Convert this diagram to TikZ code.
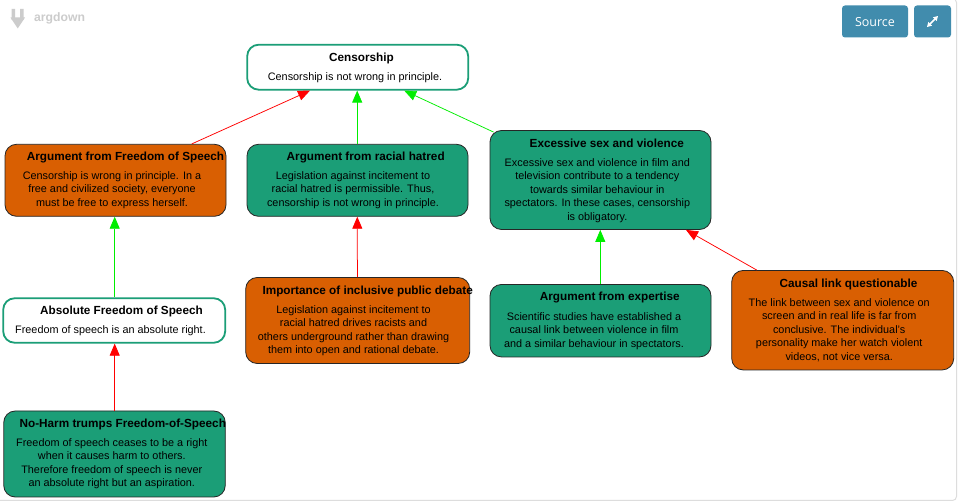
\documentclass[tikz,border=0pt]{standalone}
\usepackage{fontspec}
\setmainfont{Liberation Sans}
\newfontfamily\opensans{Open Sans}
\usetikzlibrary{arrows.meta,calc}
\definecolor{adteal}{HTML}{1B9E77}
\definecolor{adorange}{HTML}{D95F02}
\definecolor{adbtn}{HTML}{418CAD}
\definecolor{adgray}{HTML}{CCCCCC}
\definecolor{adframe}{HTML}{DDDDDD}
\definecolor{adgreen}{HTML}{00EE00}
\definecolor{adred}{HTML}{FF0000}
\tikzset{
  box/.style={rectangle, rounded corners=11.5pt, inner sep=0pt},
  argbox/.style={box, draw=black!85, line width=0.8pt},
  stmt/.style={box, draw=adteal, fill=white, line width=1.8pt},
  ttl/.style={font=\bfseries\fontsize{11.75}{13}\selectfont, inner sep=0pt, anchor=base},
  txt/.style={font=\fontsize{10.85}{13.5}\selectfont, inner sep=0pt, align=center, anchor=north},
  sup/.style={draw=adgreen, -{Triangle[length=12pt,width=10pt]}, line width=0.75pt},
  att/.style={draw=adred, -{Triangle[length=12pt,width=10pt]}, line width=0.75pt},
  btn/.style={rectangle, rounded corners=3pt, fill=adbtn, inner sep=0pt},
}
\begin{document}
\begin{tikzpicture}[x=1pt,y=-1pt]
\useasboundingbox (0,0) rectangle (959,502);
\fill[white] (0,0) rectangle (959,502);
\draw[adframe, line width=1pt, rounded corners=4pt] (-10,-1.5) rectangle (956.5,500.5);

% logo
\fill[adgray] (11.5,9) rectangle (15,20) (20,9) rectangle (23.5,20);
\fill[adgray] (10.5,17.5) -- (25,17.5) -- (17.75,28.5) -- cycle;
\node[inner sep=0pt, anchor=west, text=adgray, font=\bfseries\fontsize{12.2}{14}\selectfont] (logotxt) at (34,18) {argdown};

% buttons
\node[btn, minimum width=66pt, minimum height=32pt] (src) at (875,21.5) {};
\node[inner sep=0pt, text=white, font=\opensans\fontsize{12.5}{14}\selectfont, anchor=base] (srctxt) at (875,26.5) {Source};
\node[btn, minimum width=37pt, minimum height=32pt] (exp) at (932.5,21.5) {};
\coordinate (e1) at ($(exp.center)+(-5.5,5.5)$);
\coordinate (e2) at ($(exp.center)+(5.5,-5.5)$);
\draw[white, line width=1.6pt, {Triangle[length=4.5pt,width=5pt]}-{Triangle[length=4.5pt,width=5pt]}] (e1) -- (e2);

% statement: Censorship
\node[stmt, minimum width=221pt, minimum height=45pt] (cen) at (357.7,67.2) {};
\node[ttl] at (361.5,61.5) {Censorship};
\node[txt] at (355,72.3) {Censorship is not wrong in principle.};

% Argument from Freedom of Speech
\node[argbox, fill=adorange, minimum width=221pt, minimum height=72pt] (afs) at (115.5,180.3) {};
\node[ttl] at (125.5,160.5) {Argument from Freedom of Speech};
\node[txt] at (112,171.3) {Censorship is wrong in principle. In a\\free and civilized society, everyone\\must be free to express herself.};

% Argument from racial hatred
\node[argbox, fill=adteal, minimum width=221pt, minimum height=72pt] (arh) at (357.5,180.3) {};
\node[ttl] at (365.7,160.5) {Argument from racial hatred};
\node[txt] at (353,171.3) {Legislation against incitement to\\racial hatred is permissible. Thus,\\censorship is not wrong in principle.};

% Excessive sex and violence
\node[argbox, fill=adteal, minimum width=221pt, minimum height=99pt] (esv) at (600.5,180) {};
\node[ttl] at (606.8,147.6) {Excessive sex and violence};
\node[txt] at (597.3,158.3) {Excessive sex and violence in film and\\television contribute to a tendency\\towards similar behaviour in\\spectators. In these cases, censorship\\is obligatory.};

% Absolute Freedom of Speech
\node[stmt, minimum width=222pt, minimum height=44.5pt] (abs) at (114.2,320.5) {};
\node[ttl] at (121.5,314.6) {Absolute Freedom of Speech};
\node[txt] at (110.5,325.4) {Freedom of speech is an absolute right.};

% Importance of inclusive public debate
\node[argbox, fill=adorange, minimum width=224pt, minimum height=86pt] (ipd) at (357.7,320.5) {};
\node[ttl] at (367.7,294.5) {Importance of inclusive public debate};
\node[txt] at (353.5,305.3) {Legislation against incitement to\\racial hatred drives racists and\\others underground rather than drawing\\them into open and rational debate.};

% Argument from expertise
\node[argbox, fill=adteal, minimum width=221pt, minimum height=72.5pt] (aex) at (600.5,320.7) {};
\node[ttl] at (609.8,300.4) {Argument from expertise};
\node[txt] at (594,312.1) {Scientific studies have established a\\causal link between violence in film\\and a similar behaviour in spectators.};

% Causal link questionable
\node[argbox, fill=adorange, minimum width=222pt, minimum height=99.5pt] (clq) at (842.7,320.2) {};
\node[ttl] at (848.5,287.3) {Causal link questionable};
\node[txt] at (839.2,298.4) {The link between sex and violence on\\screen and in real life is far from\\conclusive. The individual's\\personality make her watch violent\\videos, not vice versa.};

% No-Harm trumps Freedom-of-Speech
\node[argbox, fill=adteal, minimum width=221.5pt, minimum height=86pt] (nht) at (114.5,454) {};
\node[ttl] at (122.8,427.6) {No-Harm trumps Freedom-of-Speech};
\node[txt] at (111.8,438.4) {Freedom of speech ceases to be a right\\when it causes harm to others.\\Therefore freedom of speech is never\\an absolute right but an aspiration.};

% connectors
\draw[att] ([xshift=76.3pt]afs.north) -- ([xshift=-47.7pt]cen.south);
\draw[sup] ([xshift=-0.3pt]arh.north) -- ([xshift=-0.5pt]cen.south);
\draw[sup] ([xshift=4pt,yshift=-2pt]esv.north west) -- ([xshift=46.5pt]cen.south);
\draw[sup] ([xshift=0.5pt]abs.north) -- ([xshift=-0.8pt]afs.south);
\draw[att] ([xshift=-0.3pt]ipd.north) -- ([xshift=-0.2pt]arh.south);
\draw[sup] ([xshift=-0.2pt]aex.north) -- ([xshift=-0.2pt]esv.south);
\draw[att] ([xshift=-86pt]clq.north) -- ([xshift=85.5pt]esv.south);
\draw[att] ([xshift=0.2pt]nht.north) -- ([xshift=0.5pt]abs.south);
\end{tikzpicture}
\end{document}
